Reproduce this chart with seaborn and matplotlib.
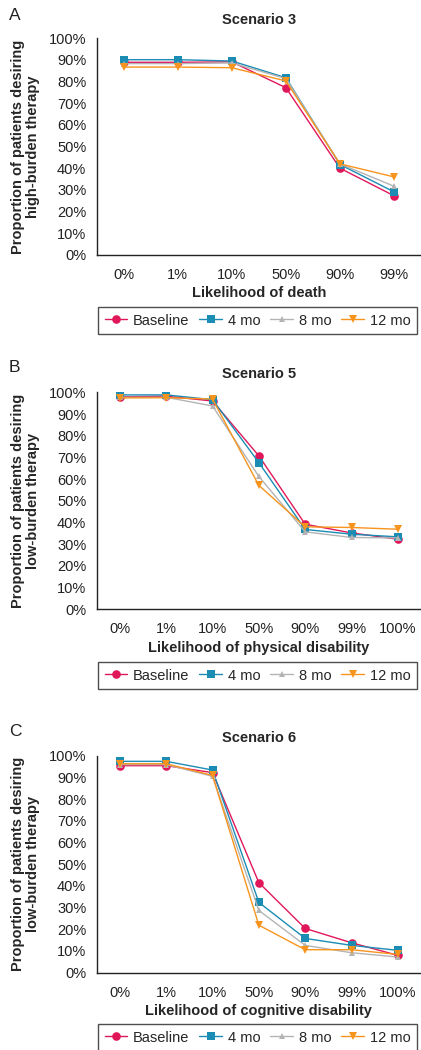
import matplotlib
matplotlib.use("Agg")
import matplotlib.pyplot as plt
import pandas as pd
import seaborn as sns

# Survey time points (one line each)
timepoints = ["Baseline", "4 mo", "8 mo", "12 mo"]

# Scenario 3: likelihood of death -> % desiring high-burden therapy
s3_levels = ["0%", "1%", "10%", "50%", "90%", "99%"]
s3_baseline = [88.8, 88.8, 89.0, 77.1, 40.0, 27.3]
s3_4mo = [90.0, 90.0, 89.4, 81.7, 41.7, 29.1]
s3_8mo = [88.2, 88.2, 88.5, 81.3, 42.0, 31.7]
s3_12mo = [86.6, 86.6, 86.3, 80.2, 42.0, 36.0]

# Scenario 5: likelihood of physical disability -> % desiring low-burden therapy
s5_levels = ["0%", "1%", "10%", "50%", "90%", "99%", "100%"]
s5_baseline = [97.9, 98.2, 96.0, 70.7, 39.2, 35.2, 32.3]
s5_4mo = [98.8, 98.8, 96.6, 67.6, 36.8, 34.6, 33.4]
s5_8mo = [97.7, 97.7, 93.7, 61.2, 35.7, 33.1, 32.9]
s5_12mo = [97.4, 97.5, 96.9, 57.1, 38.0, 37.7, 36.9]

# Scenario 6: likelihood of cognitive disability -> % desiring low-burden therapy
s6_levels = ["0%", "1%", "10%", "50%", "90%", "99%", "100%"]
s6_baseline = [95.4, 95.4, 92.2, 41.5, 20.4, 13.8, 8.0]
s6_4mo = [97.4, 97.4, 93.4, 32.4, 15.8, 12.6, 10.3]
s6_8mo = [95.9, 95.9, 90.5, 28.7, 12.6, 9.2, 7.2]
s6_12mo = [96.3, 96.3, 90.9, 21.9, 10.6, 10.6, 8.4]

y_ticks = list(range(0, 101, 10))

palette = {"Baseline": "#E0185A", "4 mo": "#1B8CB4", "8 mo": "#B4B4B4", "12 mo": "#F7941D"}
marker_map = {"Baseline": "o", "4 mo": "s", "8 mo": "^", "12 mo": "v"}
marker_size = {"Baseline": 6.2, "4 mo": 5.2, "8 mo": 4.6, "12 mo": 5.6}

panels = [
    dict(letter="A", title="Scenario 3", levels=s3_levels,
         series=[s3_baseline, s3_4mo, s3_8mo, s3_12mo],
         ylabel="Proportion of patients desiring\nhigh-burden therapy",
         xlabel="Likelihood of death",
         ax_px=(38, 255), letter_y=20.5, legend_top=307),
    dict(letter="B", title="Scenario 5", levels=s5_levels,
         series=[s5_baseline, s5_4mo, s5_8mo, s5_12mo],
         ylabel="Proportion of patients desiring\nlow-burden therapy",
         xlabel="Likelihood of physical disability",
         ax_px=(392.3, 609.3), letter_y=372, legend_top=662),
    dict(letter="C", title="Scenario 6", levels=s6_levels,
         series=[s6_baseline, s6_4mo, s6_8mo, s6_12mo],
         ylabel="Proportion of patients desiring\nlow-burden therapy",
         xlabel="Likelihood of cognitive disability",
         ax_px=(755.7, 972.7), letter_y=736, legend_top=1024),
]

sns.set_theme(style="white")
plt.rcParams["font.family"] = ["Liberation Sans", "DejaVu Sans"]
plt.rcParams["font.size"] = 10

W, H = 421, 1050
fig = plt.figure(figsize=(W / 100, H / 100), dpi=100)

left_px, right_px = 96.7, 421.0
legend_left, legend_right, legend_h = 98.0, 417.0, 25.0

for p in panels:
    top_px, bot_px = p["ax_px"]
    ax = fig.add_axes([left_px / W, 1 - bot_px / H,
                       (right_px - left_px) / W, (bot_px - top_px) / H])

    rows = []
    for name, vals in zip(timepoints, p["series"]):
        for lvl, v in zip(p["levels"], vals):
            rows.append({"level": lvl, "pct": v, "time": name})
    df = pd.DataFrame(rows)

    sns.lineplot(data=df, x="level", y="pct", hue="time", style="time",
                 hue_order=timepoints, style_order=timepoints,
                 palette=palette, markers=marker_map, dashes=False,
                 sort=False, linewidth=1.0, markeredgewidth=0,
                 legend=False, ax=ax)

    for line, name in zip(ax.lines, timepoints):
        line.set_label(name)
        line.set_markersize(marker_size[name])

    n = len(p["levels"])
    ax.set_xlim(-0.5, n - 0.5)
    ax.set_ylim(0, 100)
    ax.set_yticks(y_ticks)
    ax.set_yticklabels([f"{t}%" for t in y_ticks])

    for side in ("top", "right"):
        ax.spines[side].set_visible(False)
    for side in ("left", "bottom"):
        ax.spines[side].set_color("#222222")
        ax.spines[side].set_linewidth(1.0)

    ax.tick_params(axis="both", which="major", direction="out", length=3.5,
                   width=0.8, color="#222222", labelsize=10.5,
                   labelcolor="#222222")
    ax.tick_params(axis="y", pad=4)
    ax.tick_params(axis="x", pad=6)

    ax.set_title(p["title"], fontsize=10.5, fontweight="bold", pad=10)
    ax.set_xlabel(p["xlabel"], fontsize=10.5, fontweight="bold", labelpad=3)
    ax.set_ylabel(p["ylabel"], fontsize=10.5, fontweight="bold", labelpad=6,
                  linespacing=1.1)

    # legend box sits in a figure-pixel slot below the axes
    leg_top = p["legend_top"]
    leg = ax.legend(loc="upper left", mode="expand",
                    bbox_to_anchor=(legend_left / W,
                                    1 - (leg_top + legend_h) / H,
                                    (legend_right - legend_left) / W,
                                    legend_h / H),
                    bbox_transform=fig.transFigure, ncol=4, frameon=True,
                    fancybox=False, edgecolor="#222222", borderaxespad=0,
                    handlelength=1.55, handletextpad=0.4, columnspacing=0.8,
                    borderpad=0.45, fontsize=10.5)
    leg.get_frame().set_linewidth(1.0)

    fig.text(9 / W, 1 - p["letter_y"] / H, p["letter"], fontsize=12.5,
             ha="left", va="baseline", color="#222222")

fig.savefig("out.png", dpi=100)
